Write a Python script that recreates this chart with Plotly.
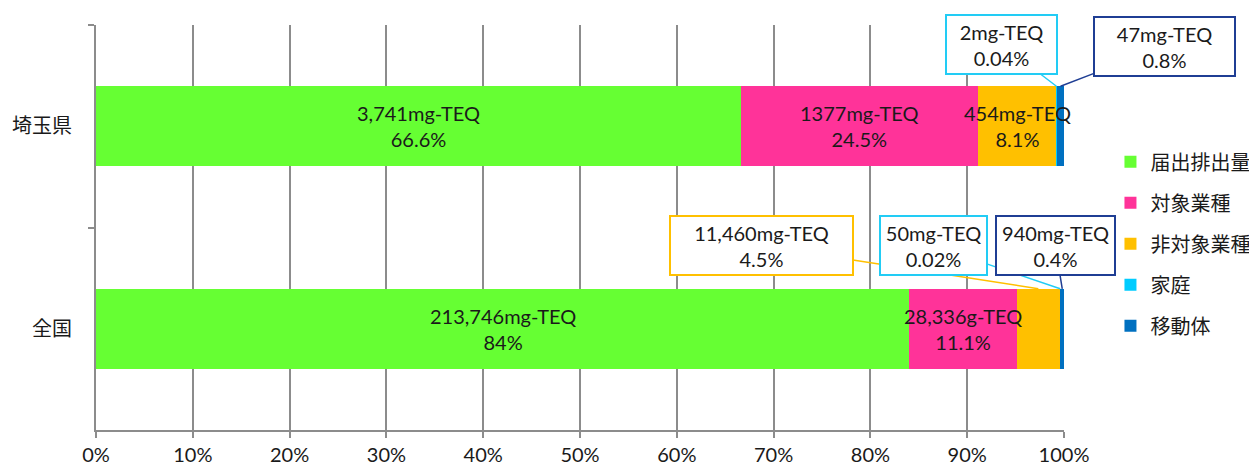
import plotly.graph_objects as go

# ---- data ----
categories = ["埼玉県", "全国"]
series_names = ["届出排出量", "対象業種", "非対象業種", "家庭", "移動体"]
series_colors = ["#66FF33", "#FF3399", "#FFC000", "#00CCFF", "#0070C0"]
saitama_pct = [66.6, 24.5, 8.1, 0.04, 0.8]
zenkoku_pct = [84, 11.1, 4.5, 0.02, 0.4]
saitama_amount = ["3,741mg-TEQ", "1377mg-TEQ", "454mg-TEQ", "2mg-TEQ", "47mg-TEQ"]
zenkoku_amount = ["213,746mg-TEQ", "28,336g-TEQ", "11,460mg-TEQ", "50mg-TEQ", "940mg-TEQ"]
saitama_pct_label = ["66.6%", "24.5%", "8.1%", "0.04%", "0.8%"]
zenkoku_pct_label = ["84%", "11.1%", "4.5%", "0.02%", "0.4%"]
x_ticks = [0, 10, 20, 30, 40, 50, 60, 70, 80, 90, 100]

FONT = "Lato, 'Noto Sans CJK JP', sans-serif"
FS = 20
BAR_W = 0.395

fig = go.Figure()
for i, name in enumerate(series_names):
    fig.add_trace(go.Bar(
        y=categories, x=[saitama_pct[i], zenkoku_pct[i]], name=name,
        orientation="h", width=BAR_W, marker=dict(color=series_colors[i], line=dict(width=0)),
        legendgroup=name, hoverinfo="skip",
    ))

annotations = []

def cum_mid(vals, i):
    return sum(vals[:i]) + vals[i] / 2.0

# inside labels
rows = [(0, saitama_pct, saitama_amount, saitama_pct_label, [0, 1, 2]),
        (1, zenkoku_pct, zenkoku_amount, zenkoku_pct_label, [0, 1])]
for ci, pct, amt, plab, idxs in rows:
    for i in idxs:
        annotations.append(dict(
            x=cum_mid(pct, i), y=ci, xref="x", yref="y", showarrow=False,
            text=f"{amt[i]}<br>{plab[i]}", align="center",
            font=dict(family=FONT, size=FS, color="#1a1a1a"),
        ))

# callouts: (category index, values, amounts, labels, series index, ax, ay, width, border color)
callouts = [
    (0, saitama_pct, saitama_amount, saitama_pct_label, 3, -55, -42, 107, "#22CCF5"),
    (0, saitama_pct, saitama_amount, saitama_pct_label, 4, 104, -40, 137, "#1F3E94"),
    (1, zenkoku_pct, zenkoku_amount, zenkoku_pct_label, 2, -277, -43, 179, "#FFC000"),
    (1, zenkoku_pct, zenkoku_amount, zenkoku_pct_label, 3, -127, -43, 103, "#22CCF5"),
    (1, zenkoku_pct, zenkoku_amount, zenkoku_pct_label, 4, -7, -43, 115, "#1F3E94"),
]
for ci, pct, amt, plab, si, ax, ay, w, col in callouts:
    annotations.append(dict(
        x=cum_mid(pct, si), y=ci - BAR_W / 2, xref="x", yref="y",
        showarrow=True, arrowhead=0, arrowwidth=1.5, arrowcolor=col,
        ax=ax, ay=ay, axref="pixel", ayref="pixel",
        text=f"{amt[si]}<br>{plab[si]}", align="center",
        width=w, height=55, borderpad=1, bordercolor=col, borderwidth=2, bgcolor="white",
        font=dict(family=FONT, size=FS, color="#1a1a1a"),
    ))

fig.update_layout(
    barmode="stack",
    width=1249, height=459,
    margin=dict(l=88, r=193, t=17, b=37, autoexpand=False),
    paper_bgcolor="white", plot_bgcolor="white",
    font=dict(family=FONT, size=FS, color="#1a1a1a"),
    annotations=annotations,
    legend=dict(
        x=1.048, y=0.46, xanchor="left", yanchor="middle",
        traceorder="grouped", tracegroupgap=12,
        font=dict(family=FONT, size=FS, color="#1a1a1a"),
        bgcolor="rgba(0,0,0,0)",
    ),
    xaxis=dict(
        range=[0, 100], tickvals=x_ticks, ticktext=[f"{v}%" for v in x_ticks],
        showgrid=True, gridcolor="#8c8c8c", gridwidth=2,
        showline=True, linecolor="#8c8c8c", linewidth=2,
        ticks="outside", ticklen=6, tickcolor="#8c8c8c", tickwidth=2,
        tickfont=dict(family=FONT, size=FS, color="#1a1a1a"),
        zeroline=False, fixedrange=True, automargin=False,
    ),
    yaxis=dict(
        autorange="reversed", type="category",
        showgrid=False, showline=True, linecolor="#8c8c8c", linewidth=2,
        ticks="outside", ticklen=6, tickcolor="#8c8c8c", tickwidth=2, tickson="boundaries",
        tickfont=dict(family=FONT, size=FS, color="#1a1a1a"),
        ticklabelstandoff=18, automargin=False,
    ),
)

fig.write_html("out.html")
